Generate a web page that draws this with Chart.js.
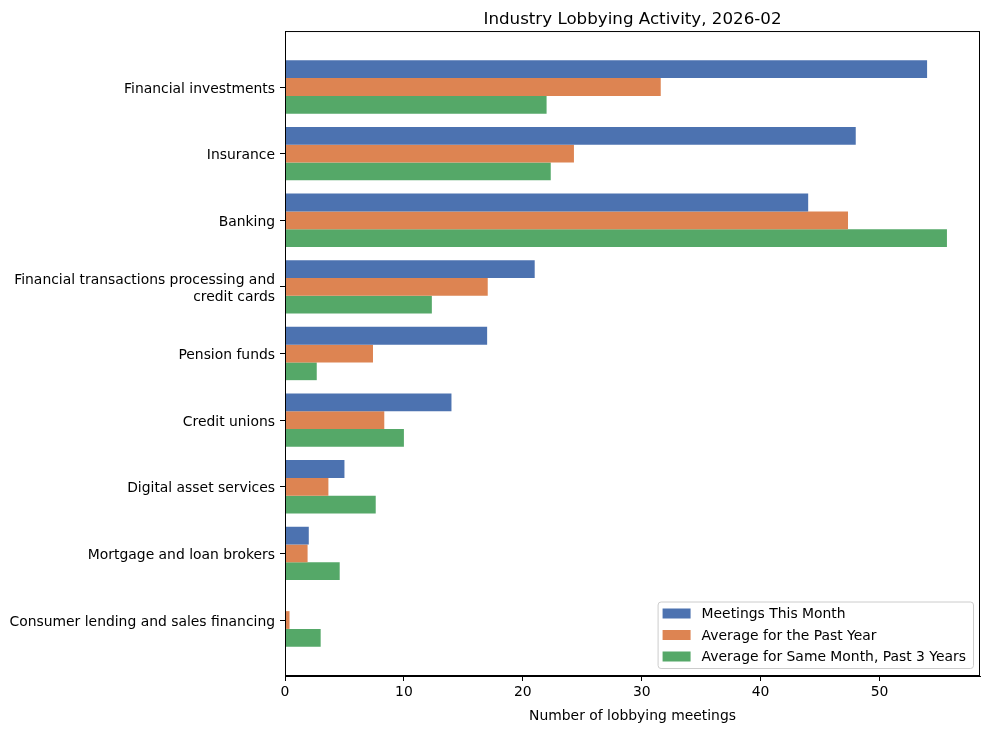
<!DOCTYPE html>
<html>
<head>
<meta charset="utf-8">
<script src="https://cdn.jsdelivr.net/npm/chart.js@4"></script>
<style>
  body { margin: 0; background: #fff; }
  #wrap { width: 990px; height: 729px; }
</style>
</head>
<body>
<div id="wrap"><canvas id="lobbyChart" width="990" height="729"></canvas></div>
<script>
// data
const categories = [
    "Financial investments",
    "Insurance",
    "Banking",
    ["Financial transactions processing and", "credit cards"],
    "Pension funds",
    "Credit unions",
    "Digital asset services",
    "Mortgage and loan brokers",
    "Consumer lending and sales financing",
];
const meetingsThisMonth = [54, 48, 44, 21, 17, 14, 5, 2, 0];
const avgPastYear = [31.6, 24.3, 47.35, 17.05, 7.4, 8.35, 3.65, 1.9, 0.38];
const avgSameMonth3y = [22.0, 22.35, 55.67, 12.35, 2.67, 10.0, 7.63, 4.6, 3.0];
const xTicks = [0, 10, 20, 30, 40, 50];

const FONT = "'DejaVu Sans', sans-serif";
Chart.defaults.color = "#000";
Chart.defaults.font.family = FONT;
Chart.defaults.font.size = 13.9;

const toPoints = (arr) => arr.map((v, i) => ({ x: v, y: i }));

// frame round the plot area (matplotlib spines)
const framePlugin = {
    id: "frame",
    afterDraw(chart) {
        const { ctx, chartArea: a } = chart;
        ctx.save();
        ctx.strokeStyle = "#000";
        ctx.lineWidth = 1;
        ctx.strokeRect(a.left + 0.5, a.top + 0.5, a.right - a.left - 1, a.bottom - a.top - 1);
        ctx.restore();
    },
};

// legend box in the lower right of the plot
const legendPlugin = {
    id: "innerLegend",
    afterDraw(chart) {
        const { ctx, chartArea: a } = chart;
        const ds = chart.data.datasets;
        const fs = 13.9;
        const rowH = 21.5;
        ctx.save();
        ctx.font = fs + "px " + FONT;
        let maxW = 0;
        ds.forEach((d) => { maxW = Math.max(maxW, ctx.measureText(d.label).width); });
        const w = 5 + 28 + 11 + maxW + 7;
        const h = ds.length * rowH + 2;
        const x = a.right - 7 - w;
        const y = a.bottom - 8 - h;
        ctx.fillStyle = "rgba(255,255,255,0.8)";
        ctx.strokeStyle = "#cccccc";
        ctx.lineWidth = 1;
        ctx.beginPath();
        ctx.roundRect(x + 0.5, y + 0.5, w, h, 3);
        ctx.fill();
        ctx.stroke();
        ds.forEach((d, i) => {
            const cy = y + 12 + i * rowH;
            ctx.fillStyle = d.backgroundColor;
            ctx.fillRect(x + 5, cy - 5, 28, 10);
            ctx.fillStyle = "#000";
            ctx.textBaseline = "middle";
            ctx.textAlign = "left";
            ctx.fillText(d.label, x + 5 + 28 + 11, cy + 1);
        });
        ctx.restore();
    },
};

new Chart(document.getElementById("lobbyChart").getContext("2d"), {
    type: "bar",
    data: {
        datasets: [
            {
                label: "Meetings This Month",
                data: toPoints(meetingsThisMonth),
                backgroundColor: "#4C72B0",
            },
            {
                label: "Average for the Past Year",
                data: toPoints(avgPastYear),
                backgroundColor: "#DD8452",
            },
            {
                label: "Average for Same Month, Past 3 Years",
                data: toPoints(avgSameMonth3y),
                backgroundColor: "#55A868",
            },
        ],
    },
    options: {
        indexAxis: "y",
        responsive: false,
        animation: false,
        categoryPercentage: 0.8,
        barPercentage: 1.0,
        layout: { padding: { left: 0, right: 10, top: 0, bottom: 0 } },
        scales: {
            x: {
                type: "linear",
                min: 0,
                max: 58.45,
                grid: { display: true, drawOnChartArea: false, drawTicks: true, tickLength: 5, color: "#000" },
                border: { display: true, color: "#000" },
                ticks: { stepSize: 10, includeBounds: false, padding: 3 },
                afterBuildTicks: (scale) => { scale.ticks = xTicks.map((v) => ({ value: v })); },
                title: { display: true, text: "Number of lobbying meetings", padding: { top: 4, bottom: 4 } },
                afterFit: (scale) => { scale.height = 53; },
            },
            y: {
                type: "linear",
                reverse: true,
                offset: false,
                min: -0.84,
                max: categories.length - 1 + 0.84,
                grid: { display: true, offset: false, drawOnChartArea: false, drawTicks: true, tickLength: 5, color: "#000" },
                border: { display: true, color: "#000" },
                afterBuildTicks: (scale) => { scale.ticks = categories.map((c, i) => ({ value: i })); },
                ticks: {
                    padding: 5,
                    labelOffset: 2,
                    autoSkip: false,
                    callback: (value) => categories[value],
                },
                afterFit: (scale) => { scale.width = 285; },
            },
        },
        plugins: {
            legend: { display: false },
            tooltip: { enabled: false },
            title: {
                display: true,
                fullSize: false,
                text: "Industry Lobbying Activity, 2026-02",
                font: { size: 16.7, weight: "normal" },
                padding: { top: 10, bottom: 1 },
            },
        },
    },
    plugins: [framePlugin, legendPlugin],
});
</script>
</body>
</html>
